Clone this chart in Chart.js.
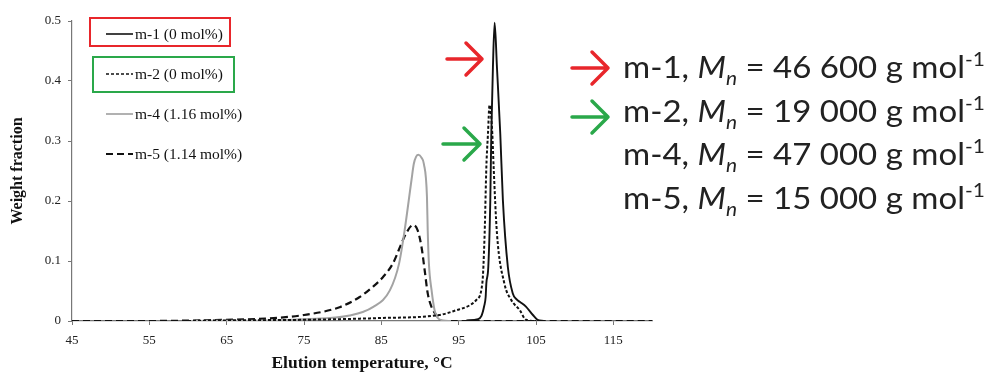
<!DOCTYPE html>
<html>
<head>
<meta charset="utf-8">
<script src="https://cdn.jsdelivr.net/npm/chart.js@4.4.0/dist/chart.umd.min.js"></script>
<style>
  html, body { margin: 0; padding: 0; background: #fff; }
  #wrap { position: relative; width: 996px; height: 374px; }
  #notes { position: absolute; left: 623px; top: 45px; font-family: Lato, sans-serif; font-size: 30px; color: #222;
           transform: scaleX(1.1); transform-origin: 0 0; }
  #notes div { height: 43.5px; line-height: 43.5px; white-space: nowrap; }
  #notes sub { font-size: 19px; vertical-align: -7px; line-height: 0; }
  #notes sup { font-size: 19px; vertical-align: 12px; line-height: 0; }
</style>
</head>
<body>
<div id="wrap">
  <canvas id="grafico" width="996" height="374"></canvas>
  <div id="notes"></div>
</div>
<script>
// valores (temperatura en C, fraccion en peso)
const nombres = ['m-1 (0 mol%)', 'm-2 (0 mol%)', 'm-4 (1.16 mol%)', 'm-5 (1.14 mol%)'];

const m1T = [96, 97.5, 97.93, 98.3, 98.49, 98.58, 98.83, 99.09, 99.22, 99.43, 99.65, 99.95, 100.38, 100.72, 101.36, 102.0, 102.5, 102.9, 103.7, 104.6, 105.2, 106];
const m1Y = [0.001, 0.003, 0.008, 0.025, 0.04, 0.063, 0.09, 0.201, 0.312, 0.423, 0.497, 0.423, 0.312, 0.201, 0.09, 0.046, 0.036, 0.032, 0.024, 0.01, 0.002, 0];

const m2T = [60, 65, 75, 85, 92.5, 94.7, 96.4, 97.28, 98.06, 98.36, 98.58, 98.79, 98.99, 99.35, 99.52, 99.95, 100.9, 101.8, 102.9, 103.7, 105];
const m2Y = [0, 0.001, 0.002, 0.005, 0.01, 0.018, 0.026, 0.035, 0.063, 0.146, 0.257, 0.312, 0.36, 0.312, 0.257, 0.146, 0.063, 0.035, 0.018, 0.002, 0];

const m4T = [60, 70, 75, 80.9, 83.9, 86.1, 87.3, 88.0, 88.9, 89.2, 89.5, 89.8, 90.2, 90.5, 90.9, 91.0, 91.15, 91.5, 91.9, 92.3, 93, 94];
const m4Y = [0, 0.001, 0.003, 0.009, 0.023, 0.051, 0.096, 0.15, 0.235, 0.262, 0.274, 0.277, 0.272, 0.262, 0.207, 0.15, 0.096, 0.051, 0.017, 0.005, 0.001, 0];

const m5T = [45, 55, 65, 70, 75, 79.6, 82.2, 83.9, 85.2, 86.5, 87.6, 88.2, 89.1, 89.7, 90.2, 90.6, 91.0, 91.5, 92.1, 92.8, 120];
const m5Y = [0, 0, 0.002, 0.004, 0.01, 0.023, 0.04, 0.057, 0.073, 0.096, 0.129, 0.146, 0.16, 0.151, 0.123, 0.085, 0.046, 0.023, 0.01, 0, 0];

const xTicks = [45, 55, 65, 75, 85, 95, 105, 115];
const yTicks = [0, 0.1, 0.2, 0.3, 0.4, 0.5];

const muestras = ['m-1', 'm-2', 'm-4', 'm-5'];
const mnValores = ['46 600', '19 000', '47 000', '15 000'];

function puntos(t, y) {
    return t.map((v, i) => ({ x: v, y: y[i] }));
}

const estilos = [
    { color: '#111', dash: [], ancho: 1.9 },
    { color: '#111', dash: [3, 2], ancho: 2 },
    { color: '#a3a3a3', dash: [], ancho: 2 },
    { color: '#111', dash: [7, 4], ancho: 2.2 }
];
const series = [puntos(m1T, m1Y), puntos(m2T, m2Y), puntos(m4T, m4Y), puntos(m5T, m5Y)];

function flecha(ctx, x0, x1, y, alto, color) {
    ctx.save();
    ctx.strokeStyle = color;
    ctx.lineWidth = 3.5;
    ctx.lineCap = 'round';
    ctx.lineJoin = 'round';
    ctx.beginPath();
    ctx.moveTo(x0, y);
    ctx.lineTo(x1, y);
    ctx.moveTo(x1 - alto, y - alto);
    ctx.lineTo(x1, y);
    ctx.lineTo(x1 - alto, y + alto);
    ctx.stroke();
    ctx.restore();
}

// leyenda propia con recuadros y flechas de color
const extras = {
    id: 'extras',
    afterDraw(chart) {
        const ctx = chart.ctx;
        const filas = [34, 74, 114, 154];
        ctx.save();
        ctx.strokeStyle = '#e8262b';
        ctx.lineWidth = 2;
        ctx.strokeRect(90, 18, 140, 28);
        ctx.strokeStyle = '#2aa84a';
        ctx.strokeRect(93, 57, 141, 35);
        ctx.font = '15.5px "Liberation Serif"';
        ctx.textBaseline = 'middle';
        ctx.fillStyle = '#111';
        filas.forEach((y, i) => {
            const e = estilos[i];
            ctx.strokeStyle = e.color;
            ctx.lineWidth = e.ancho - 0.3;
            ctx.setLineDash(e.dash);
            ctx.beginPath();
            ctx.moveTo(106, y);
            ctx.lineTo(133, y);
            ctx.stroke();
            ctx.setLineDash([]);
            ctx.fillText(nombres[i], 135, y + 1);
        });
        ctx.restore();
        flecha(ctx, 447, 482, 59, 16, '#e8262b');
        flecha(ctx, 443, 480, 144, 16, '#2aa84a');
        flecha(ctx, 572, 608, 68, 16, '#e8262b');
        flecha(ctx, 572, 608, 117, 16, '#2aa84a');
    }
};

const ctx = document.getElementById('grafico').getContext('2d');
const grafico = new Chart(ctx, {
    type: 'line',
    data: {
        datasets: series.map((d, i) => ({
            label: nombres[i],
            data: d,
            borderColor: estilos[i].color,
            borderDash: estilos[i].dash,
            borderWidth: estilos[i].ancho,
            pointRadius: 0,
            fill: false,
            cubicInterpolationMode: 'monotone'
        }))
    },
    options: {
        responsive: false,
        animation: false,
        layout: { padding: { top: 21, right: 344, left: 0, bottom: 0 } },
        plugins: { legend: { display: false }, tooltip: { enabled: false } },
        scales: {
            x: {
                type: 'linear',
                min: 45,
                max: 120,
                afterBuildTicks: (s) => { s.ticks = xTicks.map(v => ({ value: v })); },
                afterFit: (s) => { s.height = 53; },
                grid: { drawOnChartArea: false, tickLength: 4, color: '#777' },
                border: { color: '#777', width: 1.2 },
                ticks: { color: '#222', font: { family: 'Liberation Serif', size: 13 }, padding: 8 },
                title: {
                    display: true,
                    text: 'Elution temperature, \u00b0C',
                    color: '#111',
                    font: { family: 'Liberation Serif', size: 17.5, weight: 'bold' },
                    padding: { top: 0, bottom: 0 }
                }
            },
            y: {
                min: 0,
                max: 0.5,
                afterBuildTicks: (s) => { s.ticks = yTicks.map(v => ({ value: v })); },
                afterFit: (s) => { s.width = 72; },
                grid: { drawOnChartArea: false, tickLength: 4, color: '#777' },
                border: { color: '#777', width: 1.2 },
                ticks: { color: '#222', font: { family: 'Liberation Serif', size: 13 }, padding: 7 },
                title: {
                    display: true,
                    text: 'Weight fraction',
                    color: '#111',
                    font: { family: 'Liberation Serif', size: 16, weight: 'bold' },
                    padding: { top: 8, bottom: 0 }
                }
            }
        }
    },
    plugins: [extras]
});

document.getElementById('notes').innerHTML = muestras.map((m, i) =>
    '<div>' + m + ', <i>M</i><sub><i>n</i></sub> = ' + mnValores[i] + ' g mol<sup>-1</sup></div>'
).join('');
</script>
</body>
</html>
